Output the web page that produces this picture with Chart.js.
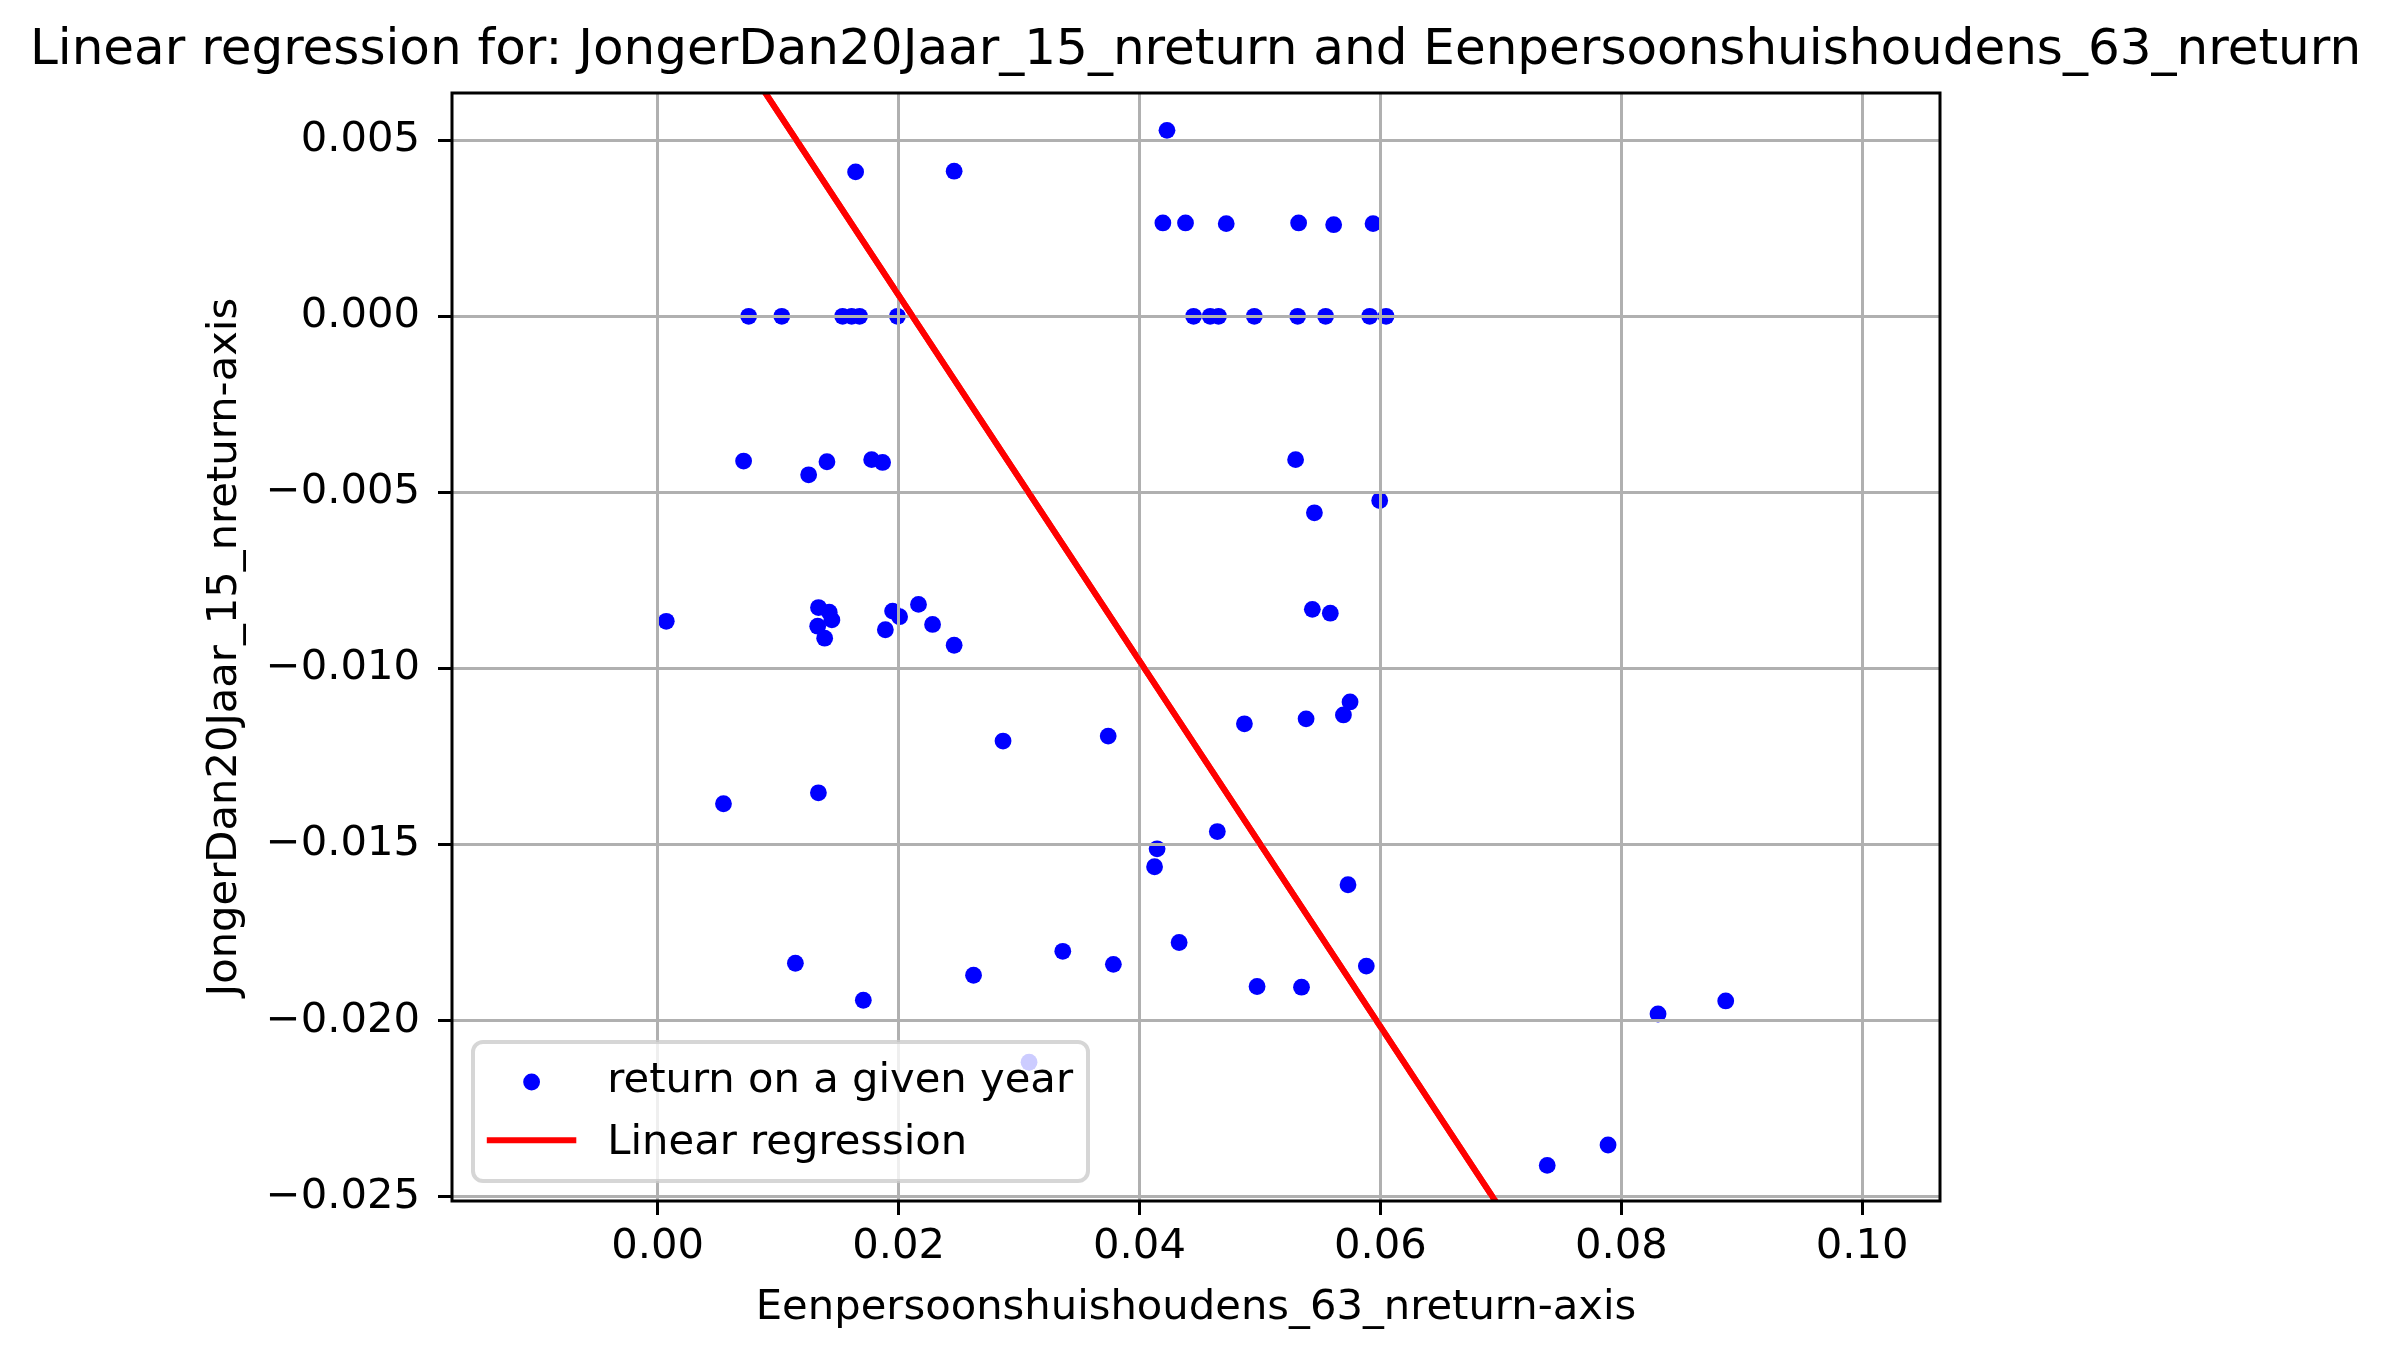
<!DOCTYPE html>
<html>
<head>
<meta charset="utf-8">
<title>Linear regression</title>
<script src="https://cdn.jsdelivr.net/npm/chart.js@4.4.1/dist/chart.umd.min.js"></script>
<style>
  html, body { margin: 0; padding: 0; background: #fff; }
  canvas { display: block; }
</style>
</head>
<body>
<canvas id="regressionChart" width="2391" height="1362"></canvas>
<script>
// Values

// Eenpersoonshuishoudens_63_nreturn (x) for every year
const pointsX = [
  0.04228, 0.01643, 0.02461,
  0.04194, 0.04382, 0.04720, 0.05321, 0.05612, 0.05939,
  0.00755, 0.01030, 0.01535, 0.01610, 0.01676, 0.01990,
  0.04449, 0.04587, 0.04656, 0.04953, 0.05313, 0.05545, 0.05911, 0.06047,
  0.00713, 0.01253, 0.01405, 0.01776, 0.01867, 0.05296, 0.05452, 0.05994,
  0.00071, 0.01335, 0.01424, 0.01446, 0.01328, 0.01386, 0.01950, 0.02008,
  0.02165, 0.02282, 0.01890, 0.02461, 0.05435, 0.05584,
  0.02867, 0.03740, 0.04871, 0.05383, 0.05693, 0.05748,
  0.00546, 0.01334, 0.04146, 0.04125, 0.04646, 0.05731,
  0.01143, 0.01707, 0.02622, 0.03363, 0.03783, 0.04329, 0.04976, 0.05345, 0.05883,
  0.08305, 0.08867, 0.03083, 0.07385, 0.07890
];

// JongerDan20Jaar_15_nreturn (y) for every year
const pointsY = [
  0.00528, 0.00410, 0.00412,
  0.00265, 0.00265, 0.00263, 0.00265, 0.00260, 0.00263,
  0, 0, 0, 0, 0, 0,
  0, 0, 0, 0, 0, 0, 0, 0,
  -0.00411, -0.00450, -0.00413, -0.00407, -0.00415, -0.00407, -0.00558, -0.00523,
  -0.00866, -0.00827, -0.00840, -0.00862, -0.00880, -0.00914, -0.00837, -0.00853,
  -0.00818, -0.00875, -0.00890, -0.00934, -0.00832, -0.00843,
  -0.01206, -0.01192, -0.01157, -0.01143, -0.01132, -0.01095,
  -0.01384, -0.01353, -0.01512, -0.01563, -0.01463, -0.01614,
  -0.01837, -0.01942, -0.01871, -0.01803, -0.01840, -0.01778, -0.01903, -0.01905, -0.01845,
  -0.01981, -0.01944, -0.02118, -0.02411, -0.02353
];

// ends of the fitted line (clipped by the axes)
const regX = [-0.0114, 0.1009];
const regY = [0.0169, -0.0414];

// axis limits and ticks
const xRange = [-0.01708, 0.10646];
const yRange = [-0.02512, 0.00634];
const xTicks = [0, 0.02, 0.04, 0.06, 0.08, 0.10];
const xTickLabels = ["0.00", "0.02", "0.04", "0.06", "0.08", "0.10"];
const yTicks = [-0.025, -0.020, -0.015, -0.010, -0.005, 0, 0.005];
const yTickLabels = ["\u22120.025", "\u22120.020", "\u22120.015", "\u22120.010", "\u22120.005", "0.000", "0.005"];

Chart.defaults.font.family = "'DejaVu Sans', sans-serif";
Chart.defaults.color = "#000";

// Grid lies over the dots (matplotlib style), so draw the red line again on top,
// then the frame and the legend box inside the plot
const frameAndLegend = {
  id: "frameAndLegend",
  afterDraw(chart) {
    const ctx = chart.ctx;
    const a = chart.chartArea;

    ctx.save();
    ctx.beginPath();
    ctx.rect(a.left, a.top, a.right - a.left, a.bottom - a.top);
    ctx.clip();
    chart.getDatasetMeta(1).controller.draw();
    ctx.restore();

    // spines
    ctx.save();
    ctx.strokeStyle = "#000";
    ctx.lineWidth = 3;
    ctx.strokeRect(a.left, a.top, a.right - a.left, a.bottom - a.top);
    ctx.restore();

    // legend, lower left
    const ds = chart.data.datasets;
    const bw = 615, bh = 139;
    const bx = a.left + 21, by = a.bottom - 20 - bh;
    ctx.save();
    ctx.beginPath();
    ctx.roundRect(bx, by, bw, bh, 10);
    ctx.fillStyle = "rgba(255,255,255,0.8)";
    ctx.fill();
    ctx.lineWidth = 4;
    ctx.strokeStyle = "rgba(204,204,204,0.8)";
    ctx.stroke();

    ctx.beginPath();
    ctx.arc(bx + 58.6, by + 40, 8.4, 0, Math.PI * 2);
    ctx.fillStyle = ds[0].backgroundColor;
    ctx.fill();

    ctx.beginPath();
    ctx.moveTo(bx + 13.8, by + 98.3);
    ctx.lineTo(bx + 103.3, by + 98.3);
    ctx.strokeStyle = ds[1].borderColor;
    ctx.lineWidth = 6;
    ctx.stroke();

    ctx.fillStyle = "#000";
    ctx.font = "41.7px 'DejaVu Sans', sans-serif";
    ctx.textBaseline = "alphabetic";
    ctx.textAlign = "left";
    ctx.fillText(ds[0].label, bx + 134.3, by + 50);
    ctx.fillText(ds[1].label, bx + 134.3, by + 112.3);
    ctx.restore();
  }
};

new Chart(document.getElementById("regressionChart"), {
  type: "scatter",
  data: {
    datasets: [
      {
        label: "return on a given year",
        data: pointsX.map((x, i) => ({ x: x, y: pointsY[i] })),
        backgroundColor: "#0000ff",
        pointBackgroundColor: "#0000ff",
        pointBorderWidth: 0,
        pointRadius: 8.4,
        pointHoverRadius: 8.4,
        yAxisID: "y"
      },
      {
        type: "line",
        label: "Linear regression",
        data: regX.map((x, i) => ({ x: x, y: regY[i] })),
        borderColor: "#ff0000",
        borderWidth: 6,
        pointRadius: 0,
        fill: false,
        tension: 0,
        yAxisID: "y"
      }
    ]
  },
  options: {
    responsive: false,
    devicePixelRatio: 1,
    animation: false,
    events: [],
    layout: { padding: 0 },
    plugins: {
      legend: { display: false },
      tooltip: { enabled: false },
      title: {
        display: true,
        text: "Linear regression for: JongerDan20Jaar_15_nreturn and Eenpersoonshuishoudens_63_nreturn",
        font: { size: 50, weight: "normal" },
        color: "#000",
        padding: { top: 21, bottom: 12 }
      }
    },
    scales: {
      x: {
        type: "linear",
        position: "bottom",
        min: xRange[0],
        max: xRange[1],
        afterBuildTicks: (s) => { s.ticks = xTicks.map((v) => ({ value: v })); },
        afterFit: (s) => { s.height = 161; },
        ticks: {
          callback: (v, i) => xTickLabels[i],
          autoSkip: false,
          maxRotation: 0,
          padding: 7.3,
          font: { size: 41.7 },
          color: "#000"
        },
        grid: { color: "#b0b0b0", lineWidth: 3, tickLength: 14, tickColor: "#000", tickWidth: 3, z: 1 },
        border: { display: false },
        title: {
          display: true,
          text: "Eenpersoonshuishoudens_63_nreturn-axis",
          font: { size: 41.7 },
          color: "#000",
          padding: { top: 0, bottom: 28.7 }
        }
      },
      y: {
        type: "linear",
        position: "left",
        min: yRange[0],
        max: yRange[1],
        afterBuildTicks: (s) => { s.ticks = yTicks.map((v) => ({ value: v })); },
        afterFit: (s) => { s.width = 452; },
        ticks: {
          callback: (v, i) => yTickLabels[i],
          autoSkip: false,
          padding: 18,
          font: { size: 41.7 },
          color: "#000"
        },
        grid: { color: "#b0b0b0", lineWidth: 3, tickLength: 14, tickColor: "#000", tickWidth: 3, z: 1 },
        border: { display: false },
        title: {
          display: true,
          text: "JongerDan20Jaar_15_nreturn-axis",
          font: { size: 41.7 },
          color: "#000",
          padding: { top: 200.6, bottom: 0 }
        }
      },
      // empty axis that only keeps the right margin
      yRight: {
        type: "linear",
        position: "right",
        display: true,
        min: 0,
        max: 1,
        ticks: { display: false },
        grid: { display: false },
        border: { display: false },
        afterFit: (s) => { s.width = 451; }
      }
    }
  },
  plugins: [frameAndLegend]
});
</script>
</body>
</html>
